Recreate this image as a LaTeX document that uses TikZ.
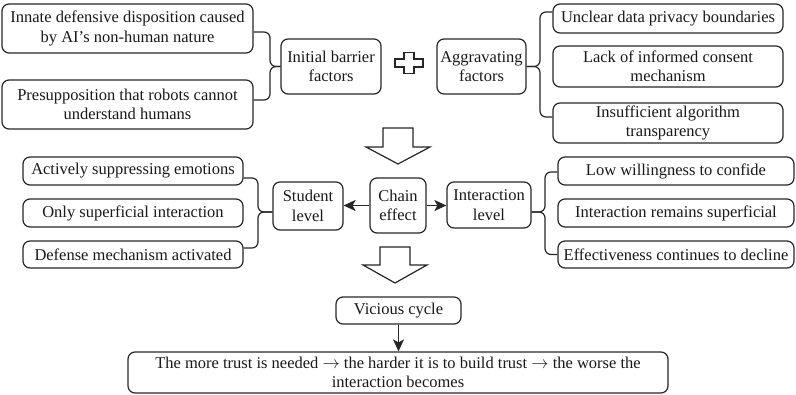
\documentclass[tikz,border=0pt]{standalone}
\usepackage{fontspec}
\setmainfont{Liberation Serif}
\usepackage{tikz}
\usetikzlibrary{arrows.meta}

\begin{document}
\begin{tikzpicture}[x=1pt,y=-1pt,
  box/.style={draw=black!85, line width=1.2pt, rounded corners=7pt, align=center,
    inner sep=1pt, text=black!90, font=\fontsize{16.5pt}{19.5pt}\selectfont},
  curly/.style={draw=black!85, line width=1.2pt, rounded corners=6pt},
  link/.style={draw=black!85, line width=1.2pt, -{Stealth[length=12pt,width=11pt,inset=3pt]}},
  hollow/.style={draw=black!85, line width=1.2pt, fill=white, line join=miter}]
\useasboundingbox (0,0) rectangle (796,395);

% first stage: barriers
\node[box, minimum width=251, minimum height=49] (innate) at (127.5,28.5) {Innate defensive disposition caused\\by AI’s non-human nature};
\node[box, minimum width=251, minimum height=49] (presup) at (127.5,104.5) {Presupposition that robots cannot\\understand humans};
\node[box, minimum width=100, minimum height=55] (init) at (331,66.5) {Initial barrier\\factors};
\node[box, minimum width=89, minimum height=55] (aggr) at (481.5,66.5) {Aggravating\\factors};
\node[box, minimum width=230, minimum height=29] (privacy) at (668,18.5) {Unclear data privacy boundaries};
\node[box, minimum width=230, minimum height=41] (consent) at (668,66.5) {Lack of informed consent\\mechanism};
\node[box, minimum width=230, minimum height=40] (algo) at (668,123) {Insufficient algorithm\\transparency};

\draw[curly] ([yshift=-3.5pt]innate.east) -| (270,66.5) -- (init.west);
\draw[curly] (init.west) -- (270,66.5) |- ([yshift=4.5pt]presup.east);
\draw[curly] ([yshift=6.5pt]privacy.west) -| (540,66.5) -- (aggr.east);
\draw[curly] (aggr.east) -- (540,66.5) |- ([yshift=6pt]algo.west);

% plus sign
\draw[hollow] (404,52.5) -- (414,52.5) -- (414,59) -- (423,59) -- (423,67) -- (414,67)
  -- (414,73.5) -- (404,73.5) -- (404,67) -- (395,67) -- (395,59) -- (404,59) -- cycle;

% block arrow down
\draw[hollow] (383,128) -- (413,128) -- (413,147) -- (430,147) -- (398,164)
  -- (366,147) -- (383,147) -- cycle;

% second stage: chain effect
\node[box, minimum width=56, minimum height=55] (chain) at (398,205.5) {Chain\\effect};
\node[box, minimum width=70, minimum height=48] (student) at (308,206) {Student\\level};
\node[box, minimum width=84, minimum height=46] (inter) at (489,205) {Interaction\\level};
\draw[link] (chain.west) -- (chain.west -| student.east);
\draw[link] (chain.east) -- (chain.east -| inter.west);

\node[box, minimum width=220, minimum height=28] (suppress) at (133,171) {Actively suppressing emotions};
\node[box, minimum width=220, minimum height=28] (superf) at (133,213) {Only superficial interaction};
\node[box, minimum width=220, minimum height=27] (defense) at (133,254.5) {Defense mechanism activated};
\node[box, minimum width=236, minimum height=28] (confide) at (676,171) {Low willingness to confide};
\node[box, minimum width=236, minimum height=28] (remains) at (676,213) {Interaction remains superficial};
\node[box, minimum width=236, minimum height=27] (decline) at (676,254.5) {Effectiveness continues to decline};

\draw[curly] ([yshift=-7pt]suppress.east) -| (258,212) -- ([yshift=-6pt]student.west);
\draw[curly] ([yshift=-6pt]student.west) -- (258,212) |- ([yshift=6.5pt]defense.east);
\draw[curly] ([yshift=-1pt]confide.west) -| (545,212) -- ([yshift=-7pt]inter.east);
\draw[curly] ([yshift=-7pt]inter.east) -- (545,212) |- (decline.west);

% block arrow down
\draw[hollow] (380,247) -- (410,247) -- (410,265) -- (427,265) -- (395,283)
  -- (363,265) -- (380,265) -- cycle;

% third stage: vicious cycle
\node[box, minimum width=125, minimum height=27] (vicious) at (398.5,310.5) {Vicious cycle};
\node[box, minimum width=540, minimum height=41] (result) at (398,372.5) {The more trust is needed $\rightarrow$ the harder it is to build trust $\rightarrow$ the worse the\\interaction becomes};
\draw[link] (vicious.south) -- (vicious.south |- result.north);
\end{tikzpicture}
\end{document}
